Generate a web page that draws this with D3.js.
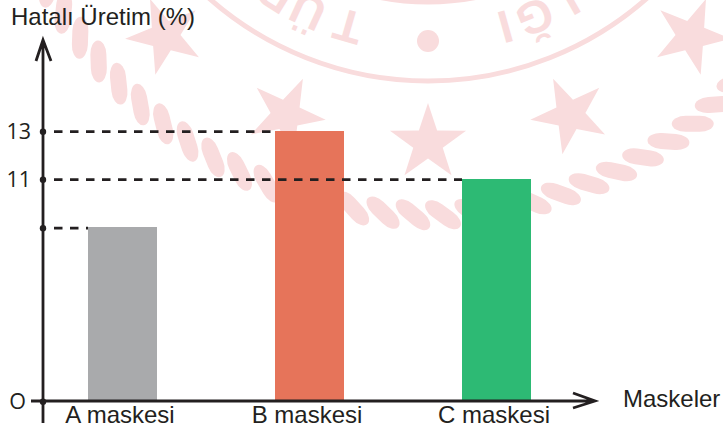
<!DOCTYPE html>
<html>
<head>
<meta charset="utf-8">
<script src="https://cdn.jsdelivr.net/npm/d3@7"></script>
<style>
  body { margin: 0; background: #fff; }
  svg { display: block; }
  text { font-family: "Liberation Sans", Arial, sans-serif; fill: #231f20; }
</style>
</head>
<body>
<div id="vis"></div>
<script>
const categories = ["A maskesi", "B maskesi", "C maskesi"];
const values = [8.6, 13, 11];
const barColors = ["#a9aaac", "#e6745a", "#2dba74"];
const yTicks = [0, 8.6, 11, 13];
const yTickLabels = ["O", "", "11", "13"];
const yTitle = "Hatalı Üretim (%)";
const xTitle = "Maskeler";

// seal letters behind the chart: [letter, degrees from the bottom of the seal]
const sealLetters = [["R", 32], ["Ü", 24.7], ["T", 16.1], ["I", -15.6], ["Ğ", -21.8], ["I", -29.6]];
// stars: [cx, cy, rotation]
const sealStars = [[165, 36, -22], [286, 115, 25], [428, 143, 0], [570, 115, -25], [691, 36, 22]];

const ink = "#231f20";
const pink = "#f9dcdd";

const svg = d3.select("#vis").append("svg").attr("width", 723).attr("height", 432);

drawSeal();

const x = d3.scaleBand().domain(categories).range([88, 531]).paddingInner(0.631).paddingOuter(0);
// the picture is not drawn to scale, so the y scale goes through the labelled ticks
const y = d3.scaleLinear().domain([0, 11, 13]).range([401, 179, 131]);

svg.selectAll("rect.bar")
  .data(categories)
  .enter()
  .append("rect")
  .attr("class", "bar")
  .attr("x", d => x(d))
  .attr("y", (d, i) => y(values[i]))
  .attr("width", x.bandwidth())
  .attr("height", (d, i) => y(0) - y(values[i]))
  .attr("fill", (d, i) => barColors[i])
  .attr("shape-rendering", "crispEdges");

// dashed guides from the y axis to the left edge of each bar
svg.selectAll("line.guide")
  .data(categories)
  .enter()
  .append("line")
  .attr("class", "guide")
  .attr("x1", 54)
  .attr("x2", d => x(d))
  .attr("y1", (d, i) => y(values[i]) + 0.7)
  .attr("y2", (d, i) => y(values[i]) + 0.7)
  .attr("stroke", ink)
  .attr("stroke-width", 2.8)
  .attr("stroke-dasharray", "8.5 7.5");

const yAxis = svg.append("g").attr("transform", "translate(43,0.7)")
  .call(d3.axisLeft(y).tickValues(yTicks).tickSize(0).tickPadding(12)
    .tickFormat((d, i) => yTickLabels[i]));
yAxis.select(".domain").remove();
yAxis.selectAll("text")
  .attr("x", d => d === 0 ? -17 : -12)
  .style("font-family", '"Open Sans", sans-serif')
  .style("font-size", "21.5px");

const xAxis = svg.append("g").attr("transform", "translate(0,401)")
  .call(d3.axisBottom(x).tickSize(0).tickPadding(5));
xAxis.select(".domain").remove();
xAxis.selectAll("text")
  .attr("dx", -2.5)
  .style("font-size", "24px");

// axis lines with open arrow heads
svg.append("path")
  .attr("d", "M43,423V40M36,61L43,40L51,61")
  .attr("fill", "none")
  .attr("stroke", ink)
  .attr("stroke-width", 2.8);
svg.append("path")
  .attr("d", "M31,401H595M573,393L595,401L573,408")
  .attr("fill", "none")
  .attr("stroke", ink)
  .attr("stroke-width", 2.8);

svg.selectAll("circle.tick-dot")
  .data(yTicks)
  .enter()
  .append("circle")
  .attr("class", "tick-dot")
  .attr("cx", 43)
  .attr("cy", d => y(d) + 0.7)
  .attr("r", 3.2)
  .attr("fill", ink);

svg.append("text")
  .attr("x", 11)
  .attr("y", 25)
  .style("font-size", "24px")
  .text(yTitle);

svg.append("text")
  .attr("x", 623)
  .attr("y", 407)
  .style("font-size", "24px")
  .text(xTitle);


function drawSeal() {
  const seal = svg.append("g");
  const cx = 428;

  // rope around the seal
  const ropeAngles = d3.range(-24, 25).map(i => 2 + i * 4);
  seal.selectAll("rect")
    .data(ropeAngles)
    .enter()
    .append("rect")
    .attr("x", -21)
    .attr("y", -8)
    .attr("width", 42)
    .attr("height", 16)
    .attr("rx", 14)
    .attr("ry", 8)
    .attr("fill", pink)
    .attr("transform", d => {
      const a = d * Math.PI / 180;
      return `translate(${cx + 430 * Math.sin(a)},${-215 + 430 * Math.cos(a)}) rotate(${38 - d})`;
    });

  // inner rings
  seal.selectAll("circle.ring")
    .data([252, 331])
    .enter()
    .append("circle")
    .attr("class", "ring")
    .attr("cx", cx)
    .attr("cy", -250)
    .attr("r", d => d)
    .attr("fill", "none")
    .attr("stroke", pink)
    .attr("stroke-width", 5);

  seal.append("circle").attr("cx", cx).attr("cy", 41).attr("r", 11).attr("fill", pink);

  seal.selectAll("text")
    .data(sealLetters)
    .enter()
    .append("text")
    .attr("text-anchor", "middle")
    .attr("dy", "0.36em")
    .style("font-size", "46px")
    .style("font-weight", "bold")
    .style("fill", pink)
    .attr("transform", d => {
      const a = d[1] * Math.PI / 180;
      return `translate(${cx - 288 * Math.sin(a)},${-250 + 288 * Math.cos(a)}) rotate(${180 + d[1]})`;
    })
    .text(d => d[0]);

  const star = d3.range(10).map(i => {
    const r = i % 2 ? 15.5 : 40;
    const a = i * Math.PI / 5;
    return [r * Math.sin(a), -r * Math.cos(a)];
  });
  seal.selectAll("path")
    .data(sealStars)
    .enter()
    .append("path")
    .attr("d", d3.line().curve(d3.curveLinearClosed)(star))
    .attr("fill", pink)
    .attr("transform", d => `translate(${d[0]},${d[1]}) rotate(${d[2]})`);
}
</script>
</body>
</html>
